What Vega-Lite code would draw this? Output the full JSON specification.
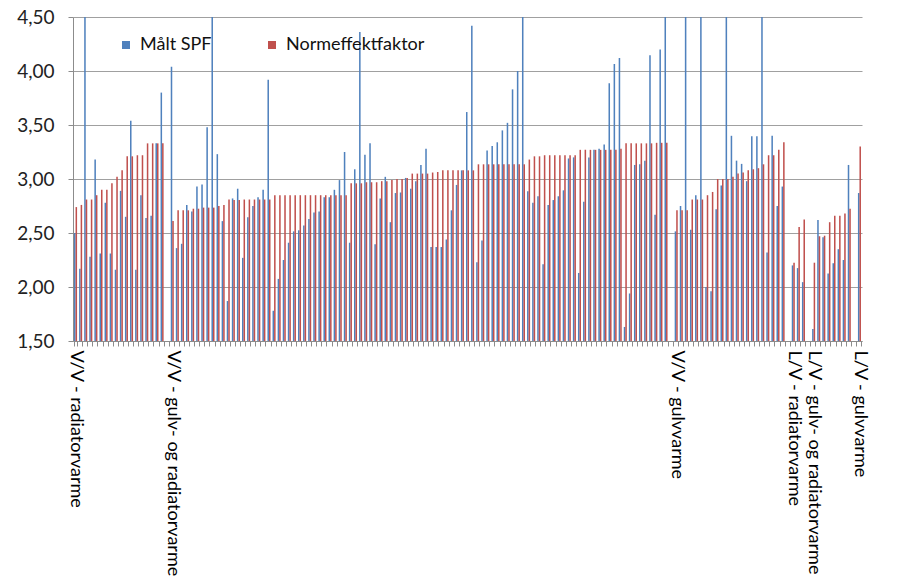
{
"$schema": "https://vega.github.io/schema/vega-lite/v6.json",
"width": 789, "height": 324,
"autosize": {"type": "none"},
"padding": {"left": 73, "top": 17, "right": 47, "bottom": 244},
"background": "white",
"config": {"view": {"stroke": null}, "font": "Lato"},
"data": {"values": [
{"i":0,"s":"Målt SPF","v":2.50},{"i":0,"s":"Normeffektfaktor","v":2.74},
{"i":1,"s":"Målt SPF","v":2.17},{"i":1,"s":"Normeffektfaktor","v":2.76},
{"i":2,"s":"Målt SPF","v":5.0},{"i":2,"s":"Normeffektfaktor","v":2.81},
{"i":3,"s":"Målt SPF","v":2.28},{"i":3,"s":"Normeffektfaktor","v":2.81},
{"i":4,"s":"Målt SPF","v":3.18},{"i":4,"s":"Normeffektfaktor","v":2.85},
{"i":5,"s":"Målt SPF","v":2.31},{"i":5,"s":"Normeffektfaktor","v":2.90},
{"i":6,"s":"Målt SPF","v":2.78},{"i":6,"s":"Normeffektfaktor","v":2.90},
{"i":7,"s":"Målt SPF","v":2.31},{"i":7,"s":"Normeffektfaktor","v":2.96},
{"i":8,"s":"Målt SPF","v":2.16},{"i":8,"s":"Normeffektfaktor","v":3.02},
{"i":9,"s":"Målt SPF","v":2.89},{"i":9,"s":"Normeffektfaktor","v":3.08},
{"i":10,"s":"Målt SPF","v":2.65},{"i":10,"s":"Normeffektfaktor","v":3.21},
{"i":11,"s":"Målt SPF","v":3.54},{"i":11,"s":"Normeffektfaktor","v":3.21},
{"i":12,"s":"Målt SPF","v":2.16},{"i":12,"s":"Normeffektfaktor","v":3.22},
{"i":13,"s":"Målt SPF","v":2.85},{"i":13,"s":"Normeffektfaktor","v":3.22},
{"i":14,"s":"Målt SPF","v":2.64},{"i":14,"s":"Normeffektfaktor","v":3.33},
{"i":15,"s":"Målt SPF","v":2.66},{"i":15,"s":"Normeffektfaktor","v":3.33},
{"i":16,"s":"Målt SPF","v":3.33},{"i":16,"s":"Normeffektfaktor","v":3.33},
{"i":17,"s":"Målt SPF","v":3.80},{"i":17,"s":"Normeffektfaktor","v":3.33},
{"i":19,"s":"Målt SPF","v":4.04},{"i":19,"s":"Normeffektfaktor","v":2.61},
{"i":20,"s":"Målt SPF","v":2.36},{"i":20,"s":"Normeffektfaktor","v":2.71},
{"i":21,"s":"Målt SPF","v":2.40},{"i":21,"s":"Normeffektfaktor","v":2.71},
{"i":22,"s":"Målt SPF","v":2.76},{"i":22,"s":"Normeffektfaktor","v":2.71},
{"i":23,"s":"Målt SPF","v":2.70},{"i":23,"s":"Normeffektfaktor","v":2.725},
{"i":24,"s":"Målt SPF","v":2.93},{"i":24,"s":"Normeffektfaktor","v":2.725},
{"i":25,"s":"Målt SPF","v":2.95},{"i":25,"s":"Normeffektfaktor","v":2.735},
{"i":26,"s":"Målt SPF","v":3.48},{"i":26,"s":"Normeffektfaktor","v":2.735},
{"i":27,"s":"Målt SPF","v":5.0},{"i":27,"s":"Normeffektfaktor","v":2.735},
{"i":28,"s":"Målt SPF","v":3.23},{"i":28,"s":"Normeffektfaktor","v":2.75},
{"i":29,"s":"Målt SPF","v":2.61},{"i":29,"s":"Normeffektfaktor","v":2.76},
{"i":30,"s":"Målt SPF","v":1.87},{"i":30,"s":"Normeffektfaktor","v":2.81},
{"i":31,"s":"Målt SPF","v":2.82},{"i":31,"s":"Normeffektfaktor","v":2.805},
{"i":32,"s":"Målt SPF","v":2.91},{"i":32,"s":"Normeffektfaktor","v":2.805},
{"i":33,"s":"Målt SPF","v":2.27},{"i":33,"s":"Normeffektfaktor","v":2.81},
{"i":34,"s":"Målt SPF","v":2.645},{"i":34,"s":"Normeffektfaktor","v":2.81},
{"i":35,"s":"Målt SPF","v":2.75},{"i":35,"s":"Normeffektfaktor","v":2.81},
{"i":36,"s":"Målt SPF","v":2.83},{"i":36,"s":"Normeffektfaktor","v":2.81},
{"i":37,"s":"Målt SPF","v":2.90},{"i":37,"s":"Normeffektfaktor","v":2.81},
{"i":38,"s":"Målt SPF","v":3.92},{"i":38,"s":"Normeffektfaktor","v":2.81},
{"i":39,"s":"Målt SPF","v":1.78},{"i":39,"s":"Normeffektfaktor","v":2.85},
{"i":40,"s":"Målt SPF","v":2.075},{"i":40,"s":"Normeffektfaktor","v":2.85},
{"i":41,"s":"Målt SPF","v":2.25},{"i":41,"s":"Normeffektfaktor","v":2.85},
{"i":42,"s":"Målt SPF","v":2.41},{"i":42,"s":"Normeffektfaktor","v":2.85},
{"i":43,"s":"Målt SPF","v":2.515},{"i":43,"s":"Normeffektfaktor","v":2.85},
{"i":44,"s":"Målt SPF","v":2.525},{"i":44,"s":"Normeffektfaktor","v":2.85},
{"i":45,"s":"Målt SPF","v":2.57},{"i":45,"s":"Normeffektfaktor","v":2.85},
{"i":46,"s":"Målt SPF","v":2.63},{"i":46,"s":"Normeffektfaktor","v":2.85},
{"i":47,"s":"Målt SPF","v":2.69},{"i":47,"s":"Normeffektfaktor","v":2.85},
{"i":48,"s":"Målt SPF","v":2.70},{"i":48,"s":"Normeffektfaktor","v":2.85},
{"i":49,"s":"Målt SPF","v":2.83},{"i":49,"s":"Normeffektfaktor","v":2.85},
{"i":50,"s":"Målt SPF","v":2.83},{"i":50,"s":"Normeffektfaktor","v":2.85},
{"i":51,"s":"Målt SPF","v":2.90},{"i":51,"s":"Normeffektfaktor","v":2.85},
{"i":52,"s":"Målt SPF","v":2.99},{"i":52,"s":"Normeffektfaktor","v":2.85},
{"i":53,"s":"Målt SPF","v":3.25},{"i":53,"s":"Normeffektfaktor","v":2.85},
{"i":54,"s":"Målt SPF","v":2.41},{"i":54,"s":"Normeffektfaktor","v":2.96},
{"i":55,"s":"Målt SPF","v":3.09},{"i":55,"s":"Normeffektfaktor","v":2.96},
{"i":56,"s":"Målt SPF","v":4.36},{"i":56,"s":"Normeffektfaktor","v":2.96},
{"i":57,"s":"Målt SPF","v":3.225},{"i":57,"s":"Normeffektfaktor","v":2.97},
{"i":58,"s":"Målt SPF","v":3.33},{"i":58,"s":"Normeffektfaktor","v":2.97},
{"i":59,"s":"Målt SPF","v":2.395},{"i":59,"s":"Normeffektfaktor","v":2.97},
{"i":60,"s":"Målt SPF","v":2.82},{"i":60,"s":"Normeffektfaktor","v":2.98},
{"i":61,"s":"Målt SPF","v":3.02},{"i":61,"s":"Normeffektfaktor","v":2.98},
{"i":62,"s":"Målt SPF","v":2.60},{"i":62,"s":"Normeffektfaktor","v":2.99},
{"i":63,"s":"Målt SPF","v":2.87},{"i":63,"s":"Normeffektfaktor","v":3.00},
{"i":64,"s":"Målt SPF","v":2.875},{"i":64,"s":"Normeffektfaktor","v":3.00},
{"i":65,"s":"Målt SPF","v":3.01},{"i":65,"s":"Normeffektfaktor","v":3.01},
{"i":66,"s":"Målt SPF","v":2.91},{"i":66,"s":"Normeffektfaktor","v":3.05},
{"i":67,"s":"Målt SPF","v":2.98},{"i":67,"s":"Normeffektfaktor","v":3.05},
{"i":68,"s":"Målt SPF","v":3.13},{"i":68,"s":"Normeffektfaktor","v":3.05},
{"i":69,"s":"Målt SPF","v":3.28},{"i":69,"s":"Normeffektfaktor","v":3.05},
{"i":70,"s":"Målt SPF","v":2.37},{"i":70,"s":"Normeffektfaktor","v":3.06},
{"i":71,"s":"Målt SPF","v":2.37},{"i":71,"s":"Normeffektfaktor","v":3.065},
{"i":72,"s":"Målt SPF","v":2.37},{"i":72,"s":"Normeffektfaktor","v":3.08},
{"i":73,"s":"Målt SPF","v":2.44},{"i":73,"s":"Normeffektfaktor","v":3.08},
{"i":74,"s":"Målt SPF","v":2.71},{"i":74,"s":"Normeffektfaktor","v":3.08},
{"i":75,"s":"Målt SPF","v":2.945},{"i":75,"s":"Normeffektfaktor","v":3.08},
{"i":76,"s":"Målt SPF","v":3.08},{"i":76,"s":"Normeffektfaktor","v":3.08},
{"i":77,"s":"Målt SPF","v":3.62},{"i":77,"s":"Normeffektfaktor","v":3.08},
{"i":78,"s":"Målt SPF","v":4.42},{"i":78,"s":"Normeffektfaktor","v":3.08},
{"i":79,"s":"Målt SPF","v":2.23},{"i":79,"s":"Normeffektfaktor","v":3.136},
{"i":80,"s":"Målt SPF","v":2.43},{"i":80,"s":"Normeffektfaktor","v":3.136},
{"i":81,"s":"Målt SPF","v":3.265},{"i":81,"s":"Normeffektfaktor","v":3.136},
{"i":82,"s":"Målt SPF","v":3.305},{"i":82,"s":"Normeffektfaktor","v":3.136},
{"i":83,"s":"Målt SPF","v":3.34},{"i":83,"s":"Normeffektfaktor","v":3.136},
{"i":84,"s":"Målt SPF","v":3.45},{"i":84,"s":"Normeffektfaktor","v":3.136},
{"i":85,"s":"Målt SPF","v":3.52},{"i":85,"s":"Normeffektfaktor","v":3.136},
{"i":86,"s":"Målt SPF","v":3.83},{"i":86,"s":"Normeffektfaktor","v":3.136},
{"i":87,"s":"Målt SPF","v":4.00},{"i":87,"s":"Normeffektfaktor","v":3.136},
{"i":88,"s":"Målt SPF","v":5.0},{"i":88,"s":"Normeffektfaktor","v":3.136},
{"i":89,"s":"Målt SPF","v":2.886},{"i":89,"s":"Normeffektfaktor","v":3.18},
{"i":90,"s":"Målt SPF","v":2.78},{"i":90,"s":"Normeffektfaktor","v":3.21},
{"i":91,"s":"Målt SPF","v":2.84},{"i":91,"s":"Normeffektfaktor","v":3.21},
{"i":92,"s":"Målt SPF","v":2.21},{"i":92,"s":"Normeffektfaktor","v":3.22},
{"i":93,"s":"Målt SPF","v":2.76},{"i":93,"s":"Normeffektfaktor","v":3.22},
{"i":94,"s":"Målt SPF","v":2.805},{"i":94,"s":"Normeffektfaktor","v":3.22},
{"i":95,"s":"Målt SPF","v":2.84},{"i":95,"s":"Normeffektfaktor","v":3.22},
{"i":96,"s":"Målt SPF","v":2.895},{"i":96,"s":"Normeffektfaktor","v":3.22},
{"i":97,"s":"Målt SPF","v":3.19},{"i":97,"s":"Normeffektfaktor","v":3.22},
{"i":98,"s":"Målt SPF","v":3.20},{"i":98,"s":"Normeffektfaktor","v":3.22},
{"i":99,"s":"Målt SPF","v":2.13},{"i":99,"s":"Normeffektfaktor","v":3.27},
{"i":100,"s":"Målt SPF","v":2.79},{"i":100,"s":"Normeffektfaktor","v":3.27},
{"i":101,"s":"Målt SPF","v":3.20},{"i":101,"s":"Normeffektfaktor","v":3.27},
{"i":102,"s":"Målt SPF","v":3.27},{"i":102,"s":"Normeffektfaktor","v":3.27},
{"i":103,"s":"Målt SPF","v":3.28},{"i":103,"s":"Normeffektfaktor","v":3.27},
{"i":104,"s":"Målt SPF","v":3.32},{"i":104,"s":"Normeffektfaktor","v":3.27},
{"i":105,"s":"Målt SPF","v":3.886},{"i":105,"s":"Normeffektfaktor","v":3.27},
{"i":106,"s":"Målt SPF","v":4.065},{"i":106,"s":"Normeffektfaktor","v":3.27},
{"i":107,"s":"Målt SPF","v":4.12},{"i":107,"s":"Normeffektfaktor","v":3.28},
{"i":108,"s":"Målt SPF","v":1.63},{"i":108,"s":"Normeffektfaktor","v":3.33},
{"i":109,"s":"Målt SPF","v":1.94},{"i":109,"s":"Normeffektfaktor","v":3.33},
{"i":110,"s":"Målt SPF","v":3.13},{"i":110,"s":"Normeffektfaktor","v":3.33},
{"i":111,"s":"Målt SPF","v":3.136},{"i":111,"s":"Normeffektfaktor","v":3.33},
{"i":112,"s":"Målt SPF","v":3.17},{"i":112,"s":"Normeffektfaktor","v":3.33},
{"i":113,"s":"Målt SPF","v":4.145},{"i":113,"s":"Normeffektfaktor","v":3.33},
{"i":114,"s":"Målt SPF","v":2.67},{"i":114,"s":"Normeffektfaktor","v":3.335},
{"i":115,"s":"Målt SPF","v":4.20},{"i":115,"s":"Normeffektfaktor","v":3.335},
{"i":116,"s":"Målt SPF","v":5.0},{"i":116,"s":"Normeffektfaktor","v":3.335},
{"i":118,"s":"Målt SPF","v":2.515},{"i":118,"s":"Normeffektfaktor","v":2.71},
{"i":119,"s":"Målt SPF","v":2.75},{"i":119,"s":"Normeffektfaktor","v":2.71},
{"i":120,"s":"Målt SPF","v":5.0},{"i":120,"s":"Normeffektfaktor","v":2.71},
{"i":121,"s":"Målt SPF","v":2.53},{"i":121,"s":"Normeffektfaktor","v":2.81},
{"i":122,"s":"Målt SPF","v":2.85},{"i":122,"s":"Normeffektfaktor","v":2.81},
{"i":123,"s":"Målt SPF","v":5.0},{"i":123,"s":"Normeffektfaktor","v":2.81},
{"i":124,"s":"Målt SPF","v":2.00},{"i":124,"s":"Normeffektfaktor","v":2.85},
{"i":125,"s":"Målt SPF","v":1.96},{"i":125,"s":"Normeffektfaktor","v":2.88},
{"i":126,"s":"Målt SPF","v":2.72},{"i":126,"s":"Normeffektfaktor","v":3.00},
{"i":127,"s":"Målt SPF","v":2.94},{"i":127,"s":"Normeffektfaktor","v":3.00},
{"i":128,"s":"Målt SPF","v":5.0},{"i":128,"s":"Normeffektfaktor","v":3.00},
{"i":129,"s":"Målt SPF","v":3.40},{"i":129,"s":"Normeffektfaktor","v":3.02},
{"i":130,"s":"Målt SPF","v":3.17},{"i":130,"s":"Normeffektfaktor","v":3.05},
{"i":131,"s":"Målt SPF","v":3.14},{"i":131,"s":"Normeffektfaktor","v":3.06},
{"i":132,"s":"Målt SPF","v":2.98},{"i":132,"s":"Normeffektfaktor","v":3.08},
{"i":133,"s":"Målt SPF","v":3.395},{"i":133,"s":"Normeffektfaktor","v":3.09},
{"i":134,"s":"Målt SPF","v":3.395},{"i":134,"s":"Normeffektfaktor","v":3.10},
{"i":135,"s":"Målt SPF","v":5.0},{"i":135,"s":"Normeffektfaktor","v":3.136},
{"i":136,"s":"Målt SPF","v":2.32},{"i":136,"s":"Normeffektfaktor","v":3.22},
{"i":137,"s":"Målt SPF","v":3.40},{"i":137,"s":"Normeffektfaktor","v":3.22},
{"i":138,"s":"Målt SPF","v":2.75},{"i":138,"s":"Normeffektfaktor","v":3.27},
{"i":139,"s":"Målt SPF","v":2.93},{"i":139,"s":"Normeffektfaktor","v":3.34},
{"i":141,"s":"Målt SPF","v":2.20},{"i":141,"s":"Normeffektfaktor","v":2.225},
{"i":142,"s":"Målt SPF","v":2.175},{"i":142,"s":"Normeffektfaktor","v":2.555},
{"i":143,"s":"Målt SPF","v":2.045},{"i":143,"s":"Normeffektfaktor","v":2.625},
{"i":145,"s":"Målt SPF","v":1.61},{"i":145,"s":"Normeffektfaktor","v":2.225},
{"i":146,"s":"Målt SPF","v":2.62},{"i":146,"s":"Normeffektfaktor","v":2.47},
{"i":147,"s":"Målt SPF","v":2.46},{"i":147,"s":"Normeffektfaktor","v":2.475},
{"i":148,"s":"Målt SPF","v":2.125},{"i":148,"s":"Normeffektfaktor","v":2.60},
{"i":149,"s":"Målt SPF","v":2.22},{"i":149,"s":"Normeffektfaktor","v":2.66},
{"i":150,"s":"Målt SPF","v":2.35},{"i":150,"s":"Normeffektfaktor","v":2.66},
{"i":151,"s":"Målt SPF","v":2.25},{"i":151,"s":"Normeffektfaktor","v":2.68},
{"i":152,"s":"Målt SPF","v":3.13},{"i":152,"s":"Normeffektfaktor","v":2.725},
{"i":154,"s":"Målt SPF","v":2.87},{"i":154,"s":"Normeffektfaktor","v":3.30}
]},
"mark": {"type": "bar", "clip": true},
"encoding": {
  "x": {"field": "i", "type": "ordinal",
    "scale": {"domain": [0,1,2,3,4,5,6,7,8,9,10,11,12,13,14,15,16,17,18,19,20,21,22,23,24,25,26,27,28,29,30,31,32,33,34,35,36,37,38,39,40,41,42,43,44,45,46,47,48,49,50,51,52,53,54,55,56,57,58,59,60,61,62,63,64,65,66,67,68,69,70,71,72,73,74,75,76,77,78,79,80,81,82,83,84,85,86,87,88,89,90,91,92,93,94,95,96,97,98,99,100,101,102,103,104,105,106,107,108,109,110,111,112,113,114,115,116,117,118,119,120,121,122,123,124,125,126,127,128,129,130,131,132,133,134,135,136,137,138,139,140,141,142,143,144,145,146,147,148,149,150,151,152,153,154], "paddingInner": 0.4, "paddingOuter": 0.2},
    "axis": {"title": null, "labelAngle": 90, "labelOverlap": false, "tickBand": "extent", "tickSize": 5, "tickColor": "#8c8c8c", "domainColor": "#8c8c8c", "grid": false,
      "labelFont": "Lato", "labelFontSize": 18, "labelColor": "#000000", "labelPadding": 4, "labelLimit": 400,
      "labelExpr": "datum.value == 0 ? 'V/V - radiatorvarme' : datum.value == 19 ? 'V/V - gulv- og radiatorvarme' : datum.value == 118 ? 'V/V - gulvvarme' : datum.value == 141 ? 'L/V - radiatorvarme' : datum.value == 145 ? 'L/V - gulv- og radiatorvarme' : datum.value == 154 ? 'L/V - gulvvarme' : ''"}},
  "xOffset": {"field": "s", "type": "nominal", "sort": ["Målt SPF", "Normeffektfaktor"], "scale": {"paddingInner": 0, "paddingOuter": 0}},
  "y": {"field": "v", "type": "quantitative",
    "scale": {"domain": [1.5, 4.5], "nice": false, "zero": false},
    "axis": {"title": null, "values": [1.5, 2, 2.5, 3, 3.5, 4, 4.5], "grid": true, "gridColor": "#a0a0a0", "gridWidth": 1,
      "tickSize": 5, "tickColor": "#8c8c8c", "domainColor": "#8c8c8c",
      "labelFont": "Lato", "labelFontSize": 19, "labelColor": "#222222", "labelPadding": 14,
      "labelExpr": "replace(format(datum.value, '.2f'), '.', ',')"}},
  "y2": {"datum": 1.5},
  "color": {"field": "s", "type": "nominal",
    "scale": {"domain": ["Målt SPF", "Normeffektfaktor"], "range": ["#4F81BD", "#C0504D"]},
    "legend": {"title": null, "orient": "none", "legendX": 44, "legendY": 19, "direction": "horizontal",
      "symbolType": "square", "symbolSize": 64, "symbolStrokeWidth": 0, "padding": 0,
      "labelFont": "Lato", "labelFontSize": 18, "labelColor": "#111111", "labelOffset": 5, "columnPadding": 51}}
}
}
